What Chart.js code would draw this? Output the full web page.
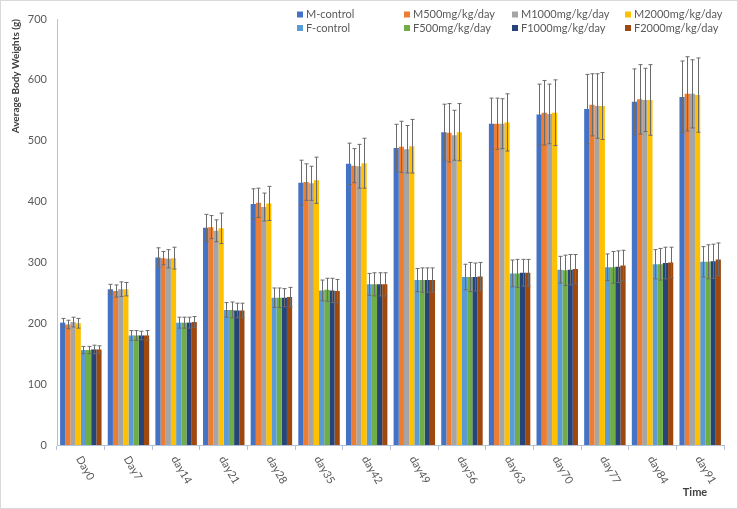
<!DOCTYPE html>
<html>
<head>
<meta charset="utf-8">
<script src="https://cdn.jsdelivr.net/npm/chart.js@4.4.1/dist/chart.umd.min.js"></script>
<style>
  html, body { margin: 0; padding: 0; background: #fff; }
  #wrap { width: 738px; height: 509px; position: relative; }
</style>
</head>
<body>
<div id="wrap"><canvas id="bw"></canvas></div>
<script>
const days = ['Day0', 'Day7', 'day14', 'day21', 'day28', 'day35', 'day42', 'day49', 'day56', 'day63', 'day70', 'day77', 'day84', 'day91'];
const seriesNames = ['M-control', 'M500mg/kg/day', 'M1000mg/kg/day', 'M2000mg/kg/day', 'F-control', 'F500mg/kg/day', 'F1000mg/kg/day', 'F2000mg/kg/day'];
const yTicks = [0, 100, 200, 300, 400, 500, 600, 700];

const mControl = [201, 256, 308, 357, 396, 431, 462, 488, 514, 528, 543, 552, 564, 572];
const m500 = [198, 253, 307, 358, 398, 432, 459, 490, 513, 528, 546, 559, 568, 577];
const m1000 = [202, 256, 306, 352, 391, 430, 458, 486, 509, 528, 544, 557, 567, 577];
const m2000 = [200, 256, 307, 356, 397, 435, 463, 491, 514, 530, 546, 557, 567, 575];
const fControl = [156, 180, 201, 222, 242, 254, 264, 271, 276, 282, 288, 292, 297, 301];
const f500 = [156, 180, 201, 222, 242, 255, 264, 271, 276, 282, 287, 292, 297, 301];
const f1000 = [157, 180, 201, 221, 242, 254, 264, 271, 276, 283, 288, 293, 299, 302];
const f2000 = [157, 180, 202, 221, 243, 253, 264, 271, 277, 283, 289, 295, 300, 305];

// standard deviations (error bars, both directions)
const mControlErr = [7, 8, 16, 22, 25, 37, 34, 39, 46, 42, 50, 57, 54, 59];
const m500Err = [7, 10, 11, 19, 24, 30, 28, 42, 48, 42, 53, 51, 57, 61];
const m1000Err = [8, 12, 15, 18, 23, 28, 36, 39, 41, 41, 49, 53, 52, 56];
const m2000Err = [8, 11, 18, 25, 28, 38, 41, 44, 47, 47, 54, 55, 58, 61];
const fControlErr = [6, 8, 9, 12, 16, 17, 18, 19, 21, 22, 22, 22, 24, 25];
const f500Err = [6, 8, 9, 13, 16, 19, 19, 20, 24, 23, 25, 26, 26, 28];
const f1000Err = [7, 7, 9, 12, 15, 20, 19, 20, 23, 22, 25, 26, 26, 28];
const f2000Err = [6, 8, 9, 12, 16, 19, 19, 20, 23, 22, 24, 25, 25, 27];

const values = [mControl, m500, m1000, m2000, fControl, f500, f1000, f2000];
const errors = [mControlErr, m500Err, m1000Err, m2000Err, fControlErr, f500Err, f1000Err, f2000Err];
const colors = ['#4472C4', '#ED7D31', '#A5A5A5', '#FFC000', '#5B9BD5', '#70AD47', '#264478', '#9E480E'];

const FONT = 'Lato, "Open Sans", sans-serif';
const TXT = '#595959';

const errorBars = {
  id: 'errorBars',
  afterDatasetsDraw(chart) {
    const ctx = chart.ctx;
    const y = chart.scales.y;
    ctx.save();
    ctx.strokeStyle = '#6b6b6b';
    ctx.lineWidth = 1;
    chart.data.datasets.forEach((ds, i) => {
      const meta = chart.getDatasetMeta(i);
      meta.data.forEach((bar, j) => {
        const v = ds.data[j], e = errors[i][j];
        const x = Math.round(bar.x) + 0.5;
        const top = y.getPixelForValue(v + e), bot = y.getPixelForValue(v - e);
        ctx.beginPath();
        ctx.moveTo(x, top); ctx.lineTo(x, bot);
        ctx.moveTo(x - 2, top); ctx.lineTo(x + 2, top);
        ctx.moveTo(x - 2, bot); ctx.lineTo(x + 2, bot);
        ctx.stroke();
      });
    });
    ctx.restore();
  }
};

const extras = {
  id: 'extras',
  beforeDraw(chart) {
    const ctx = chart.ctx;
    ctx.save();
    ctx.fillStyle = '#fff';
    ctx.fillRect(0, 0, chart.width, chart.height);
    ctx.strokeStyle = '#d9d9d9';
    ctx.strokeRect(0.5, 0.5, chart.width - 1, chart.height - 1);
    ctx.restore();
  },
  afterDraw(chart) {
    const ctx = chart.ctx;
    const x = chart.scales.x;
    ctx.save();
    // rotated category labels
    ctx.fillStyle = TXT;
    ctx.font = '11px ' + FONT;
    ctx.textAlign = 'left';
    ctx.textBaseline = 'middle';
    days.forEach((d, i) => {
      const cx = x.getPixelForValue(i);
      ctx.save();
      ctx.translate(cx - 2, 457);
      ctx.rotate(Math.PI / 3);
      ctx.fillText(d, 0, 0);
      ctx.restore();
    });
    // axis title "Time"
    ctx.font = 'bold 11px ' + FONT;
    ctx.fillStyle = '#404040';
    ctx.textAlign = 'center';
    ctx.fillText('Time', 695, 492);
    // legend, laid out in aligned columns like the original
    const colX = [297, 404, 512, 625];
    const rowY = [14.5, 28];
    ctx.font = '11px ' + FONT;
    ctx.textAlign = 'left';
    seriesNames.forEach((name, i) => {
      const cx = colX[i % 4], cy = rowY[Math.floor(i / 4)];
      ctx.fillStyle = colors[i];
      ctx.fillRect(cx, cy - 3, 6, 6);
      ctx.fillStyle = TXT;
      ctx.fillText(name, cx + 9, cy);
    });
    ctx.restore();
  }
};

new Chart(document.getElementById('bw'), {
  type: 'bar',
  data: {
    labels: days,
    datasets: seriesNames.map((n, i) => ({
      label: n,
      data: values[i],
      backgroundColor: colors[i],
      categoryPercentage: 0.87,
      barPercentage: 1.0
    }))
  },
  options: {
    responsive: true,
    maintainAspectRatio: false,
    animation: false,
    layout: { padding: { top: 19, right: 14, left: 0, bottom: 0 } },
    plugins: {
      legend: { display: false },
      tooltip: { enabled: false }
    },
    scales: {
      x: {
        grid: { display: true, drawOnChartArea: false, drawTicks: true, tickLength: 5, color: '#b4c2d8', offset: true },
        border: { color: '#b4c2d8' },
        ticks: { display: false },
        afterFit(s) { s.height = 64; }
      },
      y: {
        min: 0,
        max: 700,
        afterBuildTicks(s) { s.ticks = yTicks.map(v => ({ value: v })); },
        grid: { display: false, drawTicks: false },
        border: { color: '#b4c2d8' },
        ticks: { color: TXT, font: { family: FONT, size: 11 }, padding: 10 },
        title: {
          display: true,
          text: 'Average Body Weights (g)',
          align: 'end',
          color: '#404040',
          font: { family: FONT, size: 10, weight: 'bold' },
          padding: { top: 10 }
        },
        afterFit(s) { s.width = 57; }
      }
    }
  },
  plugins: [errorBars, extras]
});
</script>
</body>
</html>
